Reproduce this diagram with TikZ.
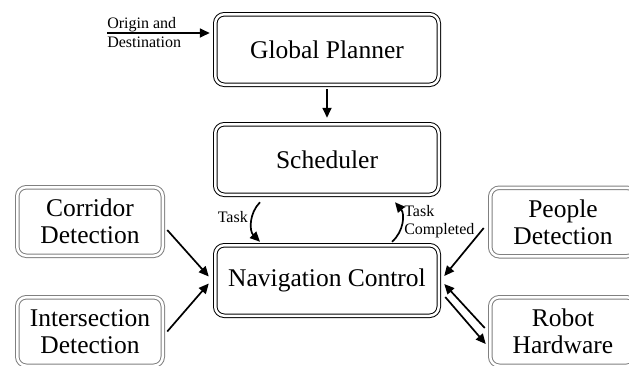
\documentclass[tikz,border=0pt]{standalone}
\usepackage{fontspec}
\setmainfont{Liberation Serif}
\usetikzlibrary{arrows.meta}
\tikzset{every picture/.style={line width=0.5pt}}

\begin{document}
\begin{tikzpicture}[x=1pt,y=-1pt,
  mainbox/.style={draw=black, double=white, double distance=2.5pt, line width=1pt,
    rounded corners=9pt, minimum width=223.5pt, minimum height=70.5pt,
    align=center, font=\fontsize{25.5}{27}\selectfont},
  sidebox/.style={mainbox, draw=black!50, minimum width=145.5pt, minimum height=68.5pt},
  arr/.style={line width=1.7pt, -{Triangle[length=10pt,width=9pt]}},
  lbl/.style={font=\fontsize{16}{18.5}\selectfont, align=left, inner sep=0pt}]
\useasboundingbox (0,0) rectangle (629,365);
% centre column
\node[mainbox] (gp) at (327,49.5) {Global Planner};
\node[mainbox] (sch) at (327,159.5) {Scheduler};
\node[mainbox] (nav) at (327,280.5) {Navigation Control};
% detectors and hardware on the sides
\node[sidebox] (cor) at (90,221.5) {Corridor\\Detection};
\node[sidebox] (int) at (90,331.5) {Intersection\\Detection};
\node[sidebox] (ppl) at (563,222) {People\\Detection};
\node[sidebox] (rob) at (563,331.5) {Robot\\Hardware};
% goal input
\coordinate (od) at (107,33);
\draw[arr] (od) -- ([shift={(-5,-16.5)}]gp.west);
\node[lbl, anchor=west] (odlbl) at (107,32.5) {Origin and\\Destination};
\draw[arr] ([shift={(0,4)}]gp.south) -- ([shift={(0,-6)}]sch.north);
% task loop
\draw[arr] ([shift={(-67,7)}]sch.south) to[bend right=45] ([shift={(-67,-3)}]nav.north);
\node[lbl, anchor=east] (tasklbl) at (248,217) {Task};
\draw[arr] ([shift={(65,-3)}]nav.north) to[bend right=45] ([shift={(68,7)}]sch.south);
\node[lbl, anchor=west] (donelbl) at (404,221.5) {Task\\Completed};
% sensors into navigation
\draw[arr] ([shift={(4,8.5)}]cor.east) -- ([shift={(-6,-4)}]nav.west);
\draw[arr] ([shift={(4,0)}]int.east) -- ([shift={(-6,3)}]nav.west);
\draw[arr] ([shift={(-6,6)}]ppl.west) -- ([shift={(5,-4.5)}]nav.east);
\draw[arr] ([shift={(-5,-3.5)}]rob.west) -- ([shift={(5,3.5)}]nav.east);
\draw[arr] ([shift={(6,16.5)}]nav.east) -- ([shift={(-4,12.5)}]rob.west);
\end{tikzpicture}
\end{document}
